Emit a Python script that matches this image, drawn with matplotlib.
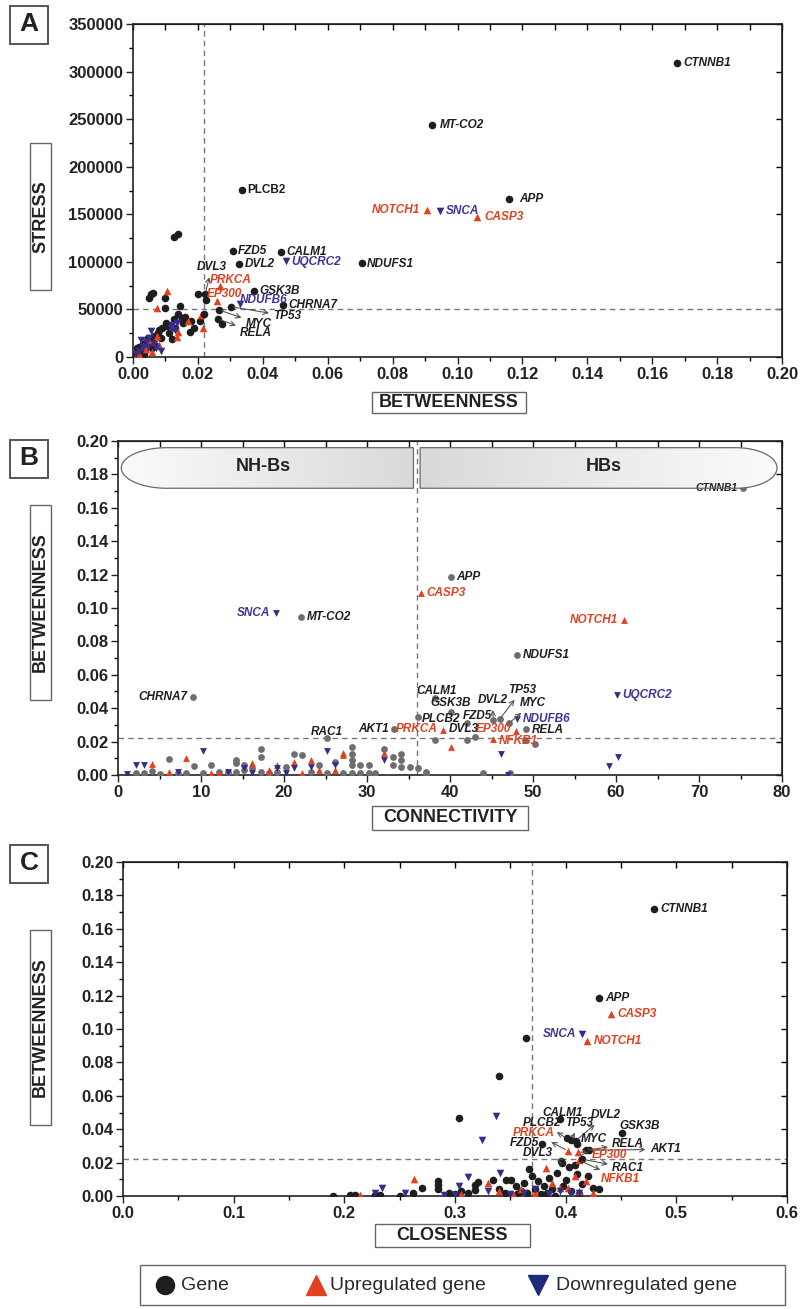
import numpy as np
import matplotlib.pyplot as plt
from matplotlib.lines import Line2D
from matplotlib.patches import Rectangle, PathPatch
from matplotlib.path import Path

plt.rcParams['font.family'] = ['Liberation Sans', 'DejaVu Sans']

# ---------------- data ----------------
# labelled genes: betweenness, stress, connectivity, closeness, type
genes = ['CTNNB1', 'APP', 'MT-CO2', 'NOTCH1', 'SNCA', 'CASP3', 'NDUFS1', 'PLCB2',
         'FZD5', 'CALM1', 'DVL2', 'UQCRC2', 'DVL3', 'PRKCA', 'EP300', 'GSK3B',
         'NDUFB6', 'CHRNA7', 'TP53', 'MYC', 'RELA', 'NFKB1', 'AKT1', 'RAC1']
gene_type = ['gene', 'gene', 'gene', 'up', 'down', 'up', 'gene', 'gene',
             'gene', 'gene', 'gene', 'down', 'gene', 'up', 'up', 'gene',
             'down', 'gene', 'gene', 'gene', 'gene', 'up', 'gene', 'gene']
betweenness = [0.172, 0.1186, 0.0945, 0.093, 0.097, 0.109, 0.0717, 0.0345,
               0.031, 0.046, 0.033, 0.048, 0.021, 0.027, 0.0265, 0.038,
               0.0333, 0.047, 0.0335, 0.031, 0.0274, 0.0215, 0.0274, 0.022]
# betweenness (x axis of the stress plot)
betweenness_a = [0.1676, 0.1159, 0.0921, 0.0906, 0.0946, 0.1060, 0.0705, 0.0335,
                 0.0307, 0.0456, 0.0326, 0.0471, 0.0222, 0.0268, 0.0258, 0.0374,
                 0.0330, 0.0463, 0.0301, 0.0266, 0.0263, 0.0215, 0.0274, 0.0220]
stress = [309000, 166000, 243500, 154000, 153500, 147000, 99000, 175500,
          111700, 110000, 97700, 101200, 66000, 74600, 58900, 69400,
          55400, 54700, 52900, 49400, 39900, 30000, 35000, 45000]
connectivity = [75.3, 40.1, 22.0, 61.0, 19.0, 36.5, 48.1, 36.2,
                42.1, 38.2, 45.2, 60.1, 42.1, 39.2, 48.0, 40.1,
                48.1, 9.0, 46.0, 47.1, 49.1, 45.2, 33.2, 25.2]
closeness = [0.480, 0.430, 0.364, 0.419, 0.415, 0.441, 0.340, 0.401,
             0.379, 0.395, 0.409, 0.337, 0.396, 0.402, 0.411, 0.451,
             0.324, 0.304, 0.405, 0.410, 0.418, 0.412, 0.421, 0.415]

# unlabelled genes, panel A (betweenness, stress)
a_gene_b = [0.0057, 0.0062, 0.0050, 0.0099, 0.0099, 0.0144, 0.0140, 0.0151, 0.0125, 0.0102,
            0.0180, 0.0208, 0.0200, 0.0177, 0.0120, 0.0078, 0.0127, 0.0140, 0.0010, 0.0020,
            0.0030, 0.0040, 0.0050, 0.0060, 0.0030, 0.0020, 0.0045, 0.0065, 0.0080, 0.0090,
            0.0105, 0.0070, 0.0015, 0.0005, 0.0035, 0.0060, 0.0085, 0.0110, 0.0130, 0.0160,
            0.0155, 0.0187, 0.0224, 0.0025, 0.0012]
a_gene_s = [66200, 67600, 62000, 61700, 51500, 53900, 44900, 40700, 39600, 35400,
            37800, 37800, 66200, 26600, 18600, 25500, 125800, 129300, 2000, 5000,
            8000, 12000, 15000, 18000, 14000, 11000, 20000, 22000, 28000, 30000,
            33000, 12000, 6000, 1000, 3000, 9000, 20000, 25000, 31000, 42000,
            36000, 31000, 60000, 1500, 9000]
a_up_b = [0.0104, 0.0073, 0.0170, 0.0210, 0.0135, 0.0140, 0.0020, 0.0040, 0.0060, 0.0080,
          0.0030, 0.0010, 0.0050, 0.0075]
a_up_s = [69400, 51800, 37800, 44100, 20700, 26600, 3000, 8000, 5000, 13000,
          12000, 1500, 17000, 22000]
a_down_b = [0.0120, 0.0135, 0.0118, 0.0130, 0.0020, 0.0030, 0.0040, 0.0050, 0.0065, 0.0010,
            0.0025, 0.0045, 0.0070, 0.0085, 0.0057]
a_down_s = [34000, 36000, 30000, 28000, 6000, 10000, 16000, 20000, 14000, 3000,
            18000, 11000, 9000, 6000, 27300]

# unlabelled genes, panel B (connectivity, betweenness)
b_gene_c = [2.2, 4.1, 5.1, 6.2, 8.2, 9.2, 10.2, 11.2, 13.2, 14.2, 14.2, 14.2, 15.2, 15.2,
            16.2, 17.2, 17.2, 17.2, 19.2, 20.2, 21.2, 22.2, 23.2, 24.2, 25.2, 26.2,
            28.2, 28.2, 28.2, 28.2, 28.2, 29.2, 29.2, 30.2, 30.2, 32.1, 33.1, 33.1,
            34.1, 34.1, 34.1, 35.2, 36.1, 37.1, 37.1, 38.2, 43.0, 47.2, 50.2, 49.0,
            3.1, 7.2, 12.2, 18.2, 27.1, 31.0, 44.0]
b_gene_b = [0.001, 0.0025, 0.0004, 0.0093, 0.001, 0.0054, 0.001, 0.006, 0.002, 0.009, 0.007,
            0.002, 0.006, 0.003, 0.004, 0.0153, 0.011, 0.002, 0.002, 0.005, 0.0123, 0.0117,
            0.002, 0.006, 0.001, 0.008, 0.017, 0.0125, 0.009, 0.006, 0.001, 0.006, 0.001,
            0.006, 0.001, 0.0153, 0.0105, 0.006, 0.0125, 0.009, 0.005, 0.005, 0.004, 0.002,
            0.0005, 0.021, 0.023, 0.001, 0.0187, 0.021, 0.001, 0.001, 0.002, 0.001, 0.001,
            0.001, 0.001]
b_up_c = [4.1, 6.2, 8.2, 11.2, 12.2, 16.2, 18.2, 19.2, 21.2, 22.2, 23.2, 24.2, 26.2, 27.1, 27.1, 32.1, 40.1]
b_up_b = [0.0064, 0.002, 0.0103, 0.001, 0.001, 0.007, 0.003, 0.006, 0.008, 0.001, 0.0089,
          0.003, 0.003, 0.0117, 0.013, 0.013, 0.017]
b_down_c = [1.1, 2.2, 3.1, 7.2, 10.2, 13.2, 15.2, 16.2, 19.2, 20.2, 21.2, 23.2, 25.2, 26.2,
            32.1, 46.2, 60.2, 59.1, 47.0]
b_down_b = [0.0004, 0.006, 0.006, 0.002, 0.0143, 0.002, 0.004, 0.001, 0.004, 0.001, 0.004,
            0.005, 0.0143, 0.006, 0.009, 0.0123, 0.011, 0.0054, 0.0002]

# unlabelled genes, panel C (closeness, betweenness)
c_gene_c = [0.190, 0.205, 0.210, 0.228, 0.232, 0.250, 0.262, 0.270, 0.285, 0.285, 0.285,
            0.295, 0.300, 0.305, 0.312, 0.318, 0.318, 0.321, 0.334, 0.340, 0.346, 0.351,
            0.355, 0.360, 0.362, 0.367, 0.370, 0.375, 0.380, 0.385, 0.388, 0.392, 0.397,
            0.400, 0.403, 0.408, 0.410, 0.415, 0.420, 0.425, 0.430, 0.345, 0.356, 0.372,
            0.383, 0.398, 0.405, 0.412, 0.390, 0.378, 0.365]
c_gene_b = [0.0002, 0.0004, 0.0003, 0.0005, 0.0003, 0.0002, 0.0015, 0.005, 0.009, 0.0065,
            0.004, 0.002, 0.001, 0.003, 0.002, 0.0066, 0.0036, 0.0086, 0.0096, 0.004, 0.0096,
            0.0096, 0.006, 0.003, 0.008, 0.016, 0.012, 0.009, 0.006, 0.011, 0.004, 0.014,
            0.0198, 0.0096, 0.0175, 0.0186, 0.013, 0.007, 0.012, 0.005, 0.004, 0.002, 0.001,
            0.004, 0.002, 0.006, 0.003, 0.001, 0.0, 0.001, 0.002]
c_up_c = [0.263, 0.330, 0.382, 0.360, 0.372, 0.395, 0.402, 0.412, 0.418, 0.425, 0.305,
          0.340, 0.352, 0.388, 0.408, 0.214]
c_up_b = [0.010, 0.0076, 0.0166, 0.004, 0.002, 0.005, 0.005, 0.003, 0.009, 0.002, 0.001,
          0.003, 0.001, 0.008, 0.012, 0.0003]
c_down_c = [0.234, 0.255, 0.312, 0.304, 0.341, 0.228, 0.300, 0.330, 0.350, 0.362, 0.372,
            0.385, 0.395, 0.405, 0.412, 0.290]
c_down_b = [0.005, 0.002, 0.0115, 0.006, 0.014, 0.0015, 0.0008, 0.003, 0.001, 0.002, 0.004,
            0.001, 0.003, 0.002, 0.0015, 0.0003]

legend_labels = ['Gene', 'Upregulated gene', 'Downregulated gene']

# ---------------- style ----------------
BLACK = '#1e1e1e'
GRAY = '#6e6e6e'
RED = '#e2401f'
BLUE = '#352d8c'
LBLUE = '#3d3596'
MARK = {'gene': 'o', 'up': '^', 'down': 'v'}
TXT = {'gene': '#1e1e1e', 'up': RED, 'down': LBLUE}

fig = plt.figure(figsize=(8.01, 13.09), dpi=100)
W, H = 801.0, 1309.0


def px_axes(l, t, r, b):
    return fig.add_axes([l / W, 1 - b / H, (r - l) / W, (b - t) / H])


def style(ax, xmaj, xmin, ymaj, ymin, xfmt, yfmt):
    ax.set_xticks(xmaj)
    ax.set_xticks(xmin, minor=True)
    ax.set_yticks(ymaj)
    ax.set_yticks(ymin, minor=True)
    ax.set_xticklabels([xfmt.format(v) for v in xmaj])
    ax.set_yticklabels([yfmt.format(v) for v in ymaj])
    ax.tick_params(which='major', direction='out', length=5, width=1, labelsize=12,
                   colors='#222222', pad=2)
    ax.tick_params(which='minor', direction='out', length=3, width=1)
    for lab in ax.get_xticklabels() + ax.get_yticklabels():
        lab.set_fontweight('bold')
    for sp in ax.spines.values():
        sp.set_linewidth(1.2)
        sp.set_color('#222222')
    top = ax.secondary_xaxis('top')
    top.set_xticks(xmin)
    top.tick_params(direction='in', length=4, width=1, labeltop=False)
    right = ax.secondary_yaxis('right')
    right.set_yticks(ymaj)
    right.tick_params(direction='in', length=4, width=1, labelright=False)


def scatter_named(ax, xs, ys, gene_col, s=30):
    for g, t, x, y in zip(genes, gene_type, xs, ys):
        col = gene_col if t == 'gene' else (RED if t == 'up' else BLUE)
        ax.scatter([x], [y], marker=MARK[t], s=s, color=col, zorder=4, linewidths=0)


def scatter_bg(ax, gx, gy, ux, uy, dx, dy, gene_col, s=30):
    ax.scatter(gx, gy, marker='o', s=s, color=gene_col, zorder=3, linewidths=0)
    ax.scatter(ux, uy, marker='^', s=s, color=RED, zorder=3, linewidths=0)
    ax.scatter(dx, dy, marker='v', s=s, color=BLUE, zorder=3, linewidths=0)


def label(ax, g, tx, ty, ha='left', arrow_from=None, size=8.5, style_='italic'):
    t = gene_type[genes.index(g)]
    if arrow_from is not None:
        ax.annotate(g, xy=arrow_from, xytext=(tx, ty), ha=ha, va='center',
                    fontsize=size, fontweight='bold', fontstyle=style_, color=TXT[t],
                    arrowprops=dict(arrowstyle='<-', color='#555555', lw=0.8,
                                    shrinkA=1, shrinkB=2), zorder=5)
    else:
        ax.text(tx, ty, g, ha=ha, va='center', fontsize=size, fontweight='bold',
                fontstyle=style_, color=TXT[t], zorder=5)


def boxed_text(x0, y0, x1, y1, s, rot=0, size=13):
    fig.patches.append(Rectangle((x0 / W, 1 - y1 / H), (x1 - x0) / W, (y1 - y0) / H,
                                 transform=fig.transFigure, fill=False,
                                 ec='#666666', lw=1.0))
    fig.text((x0 + x1) / 2 / W, 1 - (y0 + y1) / 2 / H, s, rotation=rot,
             ha='center', va='center', fontsize=size, fontweight='bold',
             color='#222222')


def panel_letter(x0, y0, x1, y1, s):
    fig.patches.append(Rectangle((x0 / W, 1 - y1 / H), (x1 - x0) / W, (y1 - y0) / H,
                                 transform=fig.transFigure, fill=False,
                                 ec='#555555', lw=1.4))
    fig.text((x0 + x1) / 2 / W, 1 - (y0 + y1) / 2 / H + 0.001, s, ha='center',
             va='center', fontsize=19, fontweight='bold', color='#222222')


ix = {g: i for i, g in enumerate(genes)}

# ================= Panel A =================
axA = px_axes(133, 24, 782, 357)
scatter_bg(axA, a_gene_b, a_gene_s, a_up_b, a_up_s, a_down_b, a_down_s, BLACK)
scatter_named(axA, betweenness_a, stress, BLACK)
axA.axvline(0.022, ls=(0, (4, 3)), color='#777777', lw=1)
axA.axhline(50000, ls=(0, (4, 3)), color='#777777', lw=1)
axA.set_xlim(0, 0.20)
axA.set_ylim(0, 350000)
style(axA, np.arange(0, 0.201, 0.02), np.arange(0, 0.201, 0.01),
      np.arange(0, 350001, 50000), np.arange(0, 350001, 25000), '{:.2f}', '{:.0f}')

bA = lambda g: (betweenness_a[ix[g]], stress[ix[g]])
label(axA, 'CTNNB1', 0.1695, 309000)
label(axA, 'MT-CO2', 0.0946, 243500)
label(axA, 'APP', 0.1190, 166000)
label(axA, 'NOTCH1', 0.0886, 155000, ha='right')
label(axA, 'SNCA', 0.0963, 153500)
label(axA, 'CASP3', 0.1082, 147000)
label(axA, 'PLCB2', 0.0352, 175500, style_='normal')
label(axA, 'FZD5', 0.0323, 111700)
label(axA, 'CALM1', 0.0472, 110000)
label(axA, 'DVL2', 0.0343, 97700)
label(axA, 'UQCRC2', 0.0488, 100000)
label(axA, 'NDUFS1', 0.0722, 98000)
label(axA, 'DVL3', 0.0197, 94600, arrow_from=bA('DVL3'))
label(axA, 'PRKCA', 0.0237, 80900)
label(axA, 'EP300', 0.0228, 66200)
label(axA, 'GSK3B', 0.0390, 69400)
label(axA, 'NDUFB6', 0.0330, 59500)
label(axA, 'CHRNA7', 0.0478, 54700)
label(axA, 'TP53', 0.0432, 43000, arrow_from=bA('TP53'))
label(axA, 'MYC', 0.0347, 35000, arrow_from=bA('MYC'))
label(axA, 'RELA', 0.0330, 25000, arrow_from=bA('RELA'))

panel_letter(10, 6, 48, 44, 'A')
boxed_text(30, 143, 51, 290, 'STRESS', rot=90)
boxed_text(372, 392, 526, 413, 'BETWEENNESS')

# ================= Panel B =================
axB = px_axes(118, 441, 782, 775)
scatter_bg(axB, b_gene_c, b_gene_b, b_up_c, b_up_b, b_down_c, b_down_b, GRAY, s=24)
scatter_named(axB, connectivity, betweenness, GRAY, s=24)
axB.axvline(36, ls=(0, (4, 3)), color='#777777', lw=1)
axB.axhline(0.022, ls=(0, (4, 3)), color='#777777', lw=1)
style(axB, np.arange(0, 81, 10), np.arange(0, 81, 5),
      np.arange(0, 0.201, 0.02), np.arange(0, 0.201, 0.01), '{:.0f}', '{:.2f}')


def capsule(ax, x0, x1, y0, y1, cap, side, light, dark):
    ym, ry = (y0 + y1) / 2, (y1 - y0) / 2
    if side == 'left':
        th = np.linspace(np.pi / 2, 3 * np.pi / 2, 60)
        arc = np.column_stack([x0 + cap + cap * np.cos(th), ym + ry * np.sin(th)])
        verts = np.vstack([[x1, y1], arc, [x1, y0], [x1, y1]])
    else:
        th = np.linspace(-np.pi / 2, np.pi / 2, 60)
        arc = np.column_stack([x1 - cap + cap * np.cos(th), ym + ry * np.sin(th)])
        verts = np.vstack([[x0, y0], arc, [x0, y1], [x0, y0]])
    patch = PathPatch(Path(verts), fc='none', ec='#6a6a6a', lw=0.9, zorder=6)
    ax.add_patch(patch)
    grad = np.linspace(0, 1, 256)[None, :]
    cmap = plt.matplotlib.colors.LinearSegmentedColormap.from_list('g', [light, dark])
    im = ax.imshow(grad if side == 'left' else grad[:, ::-1], extent=(x0, x1, y0, y1),
                   cmap=cmap, aspect='auto', zorder=5, origin='lower')
    im.set_clip_path(patch)


capsule(axB, 0.4, 35.6, 0.1717, 0.1960, 5.5, 'left', '#fbfbfb', '#d9d9d9')
capsule(axB, 36.4, 79.4, 0.1717, 0.1960, 5.0, 'right', '#fbfbfb', '#d9d9d9')
axB.text(17.5, 0.1845, 'NH-Bs', ha='center', va='center', fontsize=13,
         fontweight='bold', color='#222222', zorder=7)
axB.text(58.5, 0.1845, 'HBs', ha='center', va='center', fontsize=13,
         fontweight='bold', color='#222222', zorder=7)
axB.set_xlim(0, 80)
axB.set_ylim(0, 0.20)

bB = lambda g: (connectivity[ix[g]], betweenness[ix[g]])
label(axB, 'CTNNB1', 74.6, 0.172, ha='right', size=7.5)
label(axB, 'APP', 40.8, 0.1186)
label(axB, 'CASP3', 37.2, 0.109)
label(axB, 'NOTCH1', 60.3, 0.093, ha='right')
label(axB, 'SNCA', 18.3, 0.097, ha='right')
label(axB, 'MT-CO2', 22.7, 0.0945)
label(axB, 'NDUFS1', 48.8, 0.0717)
label(axB, 'CHRNA7', 8.4, 0.047, ha='right')
label(axB, 'UQCRC2', 60.8, 0.048)
label(axB, 'CALM1', 36.0, 0.0500)
label(axB, 'GSK3B', 37.6, 0.0430)
label(axB, 'PLCB2', 36.6, 0.0335)
label(axB, 'FZD5', 41.6, 0.0355)
label(axB, 'DVL2', 43.3, 0.0450, arrow_from=bB('DVL2'))
label(axB, 'TP53', 47.0, 0.0510, arrow_from=bB('TP53'))
label(axB, 'MYC', 48.4, 0.0430, arrow_from=bB('MYC'))
label(axB, 'NDUFB6', 48.8, 0.0336)
label(axB, 'RELA', 49.8, 0.0268)
label(axB, 'EP300', 47.4, 0.0273, ha='right')
label(axB, 'NFKB1', 45.9, 0.0205)
label(axB, 'DVL3', 39.9, 0.0275)
label(axB, 'PRKCA', 38.5, 0.0273, ha='right')
label(axB, 'AKT1', 32.6, 0.0274, ha='right')
label(axB, 'RAC1', 25.2, 0.0260, ha='center')

panel_letter(10, 440, 48, 478, 'B')
boxed_text(30, 505, 51, 700, 'BETWEENNESS', rot=90)
boxed_text(372, 806, 528, 830, 'CONNECTIVITY')

# ================= Panel C =================
axC = px_axes(123, 862, 787, 1196)
scatter_bg(axC, c_gene_c, c_gene_b, c_up_c, c_up_b, c_down_c, c_down_b, BLACK)
scatter_named(axC, closeness, betweenness, BLACK)
axC.axvline(0.37, ls=(0, (4, 3)), color='#777777', lw=1)
axC.axhline(0.022, ls=(0, (4, 3)), color='#777777', lw=1)
axC.set_xlim(0, 0.6)
axC.set_ylim(0, 0.20)
style(axC, np.arange(0, 0.61, 0.1), np.arange(0, 0.61, 0.05),
      np.arange(0, 0.201, 0.02), np.arange(0, 0.201, 0.01), '{:.1f}', '{:.2f}')

bC = lambda g: (closeness[ix[g]], betweenness[ix[g]])
label(axC, 'CTNNB1', 0.486, 0.172)
label(axC, 'APP', 0.436, 0.1186)
label(axC, 'CASP3', 0.447, 0.109)
label(axC, 'SNCA', 0.410, 0.097, ha='right')
label(axC, 'NOTCH1', 0.425, 0.093)
label(axC, 'CALM1', 0.379, 0.050)
label(axC, 'DVL2', 0.423, 0.0485, arrow_from=bC('DVL2'))
label(axC, 'PLCB2', 0.361, 0.044, arrow_from=bC('PLCB2'))
label(axC, 'TP53', 0.400, 0.044, arrow_from=bC('TP53'))
label(axC, 'GSK3B', 0.449, 0.042)
label(axC, 'PRKCA', 0.352, 0.038, arrow_from=bC('PRKCA'))
label(axC, 'MYC', 0.414, 0.034)
label(axC, 'FZD5', 0.376, 0.0317, ha='right')
label(axC, 'RELA', 0.442, 0.031, arrow_from=bC('RELA'))
label(axC, 'AKT1', 0.476, 0.028, arrow_from=bC('AKT1'))
label(axC, 'DVL3', 0.361, 0.0257, arrow_from=bC('DVL3'))
label(axC, 'EP300', 0.424, 0.0245, arrow_from=bC('EP300'))
label(axC, 'RAC1', 0.442, 0.0168, arrow_from=bC('RAC1'))
label(axC, 'NFKB1', 0.432, 0.010, arrow_from=bC('NFKB1'))

panel_letter(10, 845, 48, 883, 'C')
boxed_text(30, 930, 51, 1125, 'BETWEENNESS', rot=90)
boxed_text(375, 1224, 530, 1247, 'CLOSENESS')

# ================= legend =================
fig.patches.append(Rectangle((140 / W, 1 - 1305 / H), 645 / W, 40 / H,
                             transform=fig.transFigure, fill=False, ec='#666666', lw=1.0))
leg_marks = [('o', 13, BLACK, 165, 181), ('^', 15, RED, 316, 330),
             ('v', 15, '#1f2a7a', 538, 556)]
for (m, ms, col, xm, xt), lab in zip(leg_marks, legend_labels):
    fig.add_artist(Line2D([xm / W], [1 - 1285 / H], ls='none', marker=m, ms=ms,
                          color=col, transform=fig.transFigure))
    fig.text(xt / W, 1 - 1285 / H, lab, ha='left', va='center', fontsize=14,
             color='#2a2a2a')

fig.savefig('out.png', dpi=100, facecolor='white')
